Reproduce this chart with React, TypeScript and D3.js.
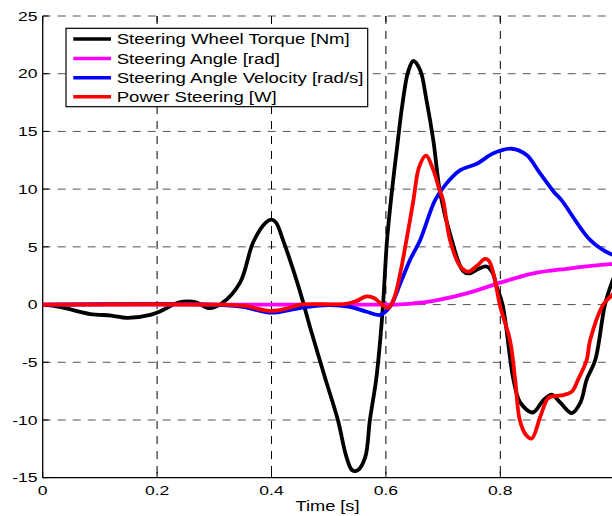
import React from "react";
import * as d3 from "d3";

const xTicks = [0, 0.2, 0.4, 0.6, 0.8];
const xTickLabels = ["0", "0.2", "0.4", "0.6", "0.8"];
const yTicks = [-15, -10, -5, 0, 5, 10, 15, 20, 25];
const yTickLabels = ["-15", "-10", "-5", "0", "5", "10", "15", "20", "25"];

const seriesNames = [
  "Steering Wheel Torque [Nm]",
  "Steering Angle [rad]",
  "Steering Angle Velocity [rad/s]",
  "Power Steering [W]",
];
const seriesColors = ["#000000", "#ff00ff", "#0000ff", "#ff0000"];

const torqueT = [0, 0.03, 0.083, 0.12, 0.147, 0.188, 0.215, 0.228, 0.245, 0.268, 0.29, 0.313, 0.345, 0.368, 0.39, 0.4, 0.408, 0.42, 0.438, 0.453, 0.467, 0.494, 0.516, 0.531, 0.541, 0.551, 0.564, 0.572, 0.583, 0.59, 0.595, 0.602, 0.61, 0.619, 0.629, 0.639, 0.648, 0.66, 0.671, 0.683, 0.695, 0.715, 0.735, 0.746, 0.762, 0.776, 0.786, 0.794, 0.804, 0.823, 0.835, 0.857, 0.875, 0.89, 0.905, 0.925, 0.94, 0.951, 0.966, 0.983, 0.995, 1.0];
const torqueV = [0, -0.2, -0.82, -0.95, -1.15, -0.9, -0.35, 0, 0.25, 0.2, -0.3, 0.1, 1.9, 5.4, 7.1, 7.35, 7.1, 5.6, 3.0, 0.6, -1.9, -6.4, -10, -13.2, -14.35, -14.35, -13.2, -10, -6.5, -3.1, 0, 5.6, 9.6, 13.4, 17.4, 20.2, 21.1, 20.3, 17.7, 14.2, 9.6, 5.6, 2.9, 2.7, 3.1, 3.3, 2.8, 1.5, 0, -6.5, -8.5, -9.35, -8.3, -7.8, -8.5, -9.4, -8.5, -6.5, -4.8, 0, 1.9, 2.5];

const angleT = [0, 0.6, 0.625, 0.683, 0.741, 0.8, 0.858, 0.916, 0.992, 1.0];
const angleV = [0, 0, 0.02, 0.33, 0.97, 1.9, 2.7, 3.1, 3.5, 3.52];

const velocityT = [0, 0.3, 0.35, 0.4, 0.45, 0.5, 0.537, 0.565, 0.59, 0.607, 0.625, 0.642, 0.66, 0.686, 0.706, 0.73, 0.759, 0.788, 0.82, 0.846, 0.869, 0.893, 0.907, 0.957, 0.992, 1.0];
const velocityV = [0, 0, -0.2, -0.7, -0.3, -0.05, -0.2, -0.6, -0.9, -0.2, 1.8, 3.85, 5.6, 9.05, 10.5, 11.65, 12.2, 13.1, 13.5, 12.95, 11.4, 9.8, 9.05, 5.6, 4.4, 4.3];

const powerT = [0, 0.3, 0.35, 0.4, 0.43, 0.45, 0.53, 0.548, 0.566, 0.58, 0.593, 0.604, 0.614, 0.625, 0.636, 0.648, 0.658, 0.67, 0.683, 0.692, 0.7, 0.712, 0.73, 0.744, 0.76, 0.773, 0.78, 0.788, 0.8, 0.817, 0.826, 0.834, 0.845, 0.855, 0.87, 0.884, 0.9, 0.91, 0.925, 0.936, 0.951, 0.957, 0.98, 0.995, 1.0];
const powerV = [0, 0, -0.1, -0.55, -0.3, 0, 0.05, 0.3, 0.7, 0.55, 0, -0.3, 0.5, 2.7, 5.6, 9.0, 11.9, 12.9, 11.65, 10.2, 9.05, 5.6, 3.3, 2.85, 3.4, 3.95, 3.8, 2.7, -0.2, -3.1, -6.5, -10, -11.3, -11.6, -9.7, -8.1, -7.9, -7.85, -7.55, -6.5, -4.8, -3.1, 0, 0.8, 1.1];

const seriesT = [torqueT, angleT, velocityT, powerT];
const seriesV = [torqueV, angleV, velocityV, powerV];

const FONT = "'Liberation Sans', Arial, Helvetica, sans-serif";

export default function App() {
  const W = 612;
  const H = 516;
  const left = 42.7;
  const right = 614.7;
  const top = 16;
  const bottom = 477.7;

  const x = d3.scaleLinear().domain([0, 1]).range([left, right]);
  const y = d3.scaleLinear().domain([-15, 25]).range([bottom, top]);

  const line = d3
    .line<[number, number]>()
    .x((d) => x(d[0]))
    .y((d) => y(d[1]))
    .curve(d3.curveCatmullRom.alpha(0.5));

  const legendX = 66;
  const legendY = 28.3;
  const legendW = 301.7;
  const legendH = 78.4;
  const legendRows = [39, 58.5, 77.7, 96.7];

  return (
    <svg
      width={W}
      height={H}
      style={{ position: "absolute", left: 0, top: 0, background: "#fff" }}
      fontFamily={FONT}
    >
      <rect x={0} y={0} width={W} height={H} fill="#fff" />
      <defs>
        <clipPath id="plotclip">
          <rect x={left} y={top - 2} width={right - left} height={bottom - top + 4} />
        </clipPath>
      </defs>
      {yTicks.map((t) =>
        t === -15 ? null : (
          <line
            key={"hg" + t}
            x1={left}
            x2={right}
            y1={y(t)}
            y2={y(t)}
            stroke="#555"
            strokeWidth={1}
            strokeDasharray="8,7"
          />
        )
      )}
      {xTicks.map((t) =>
        t === 0 ? null : (
          <line
            key={"vg" + t}
            x1={x(t)}
            x2={x(t)}
            y1={top}
            y2={bottom}
            stroke="#000"
            strokeWidth={1}
            strokeDasharray="8,7"
          />
        )
      )}
      <line x1={left} x2={left} y1={top} y2={bottom} stroke="#000" strokeWidth={1.3} />
      <line x1={left} x2={right} y1={bottom} y2={bottom} stroke="#000" strokeWidth={1.3} />
      {yTicks.map((t) => (
        <line key={"yt" + t} x1={left} x2={left + 6} y1={y(t)} y2={y(t)} stroke="#000" strokeWidth={1} />
      ))}
      {xTicks.map((t) => (
        <g key={"xt" + t}>
          <line x1={x(t)} x2={x(t)} y1={bottom} y2={bottom - 6} stroke="#000" strokeWidth={1} />
          <line x1={x(t)} x2={x(t)} y1={top} y2={top + 6} stroke="#000" strokeWidth={1} />
        </g>
      ))}
      {yTicks.map((t, i) => (
        <text
          key={"yl" + t}
          transform={`translate(37.5,${y(t) + 4.7}) scale(1.3,1)`}
          textAnchor="end"
          fontSize={13.5}
          fill="#000"
        >
          {yTickLabels[i]}
        </text>
      ))}
      {xTicks.map((t, i) => (
        <text
          key={"xl" + t}
          transform={`translate(${x(t)},494.5) scale(1.3,1)`}
          textAnchor="middle"
          fontSize={13.5}
          fill="#000"
        >
          {xTickLabels[i]}
        </text>
      ))}
      <text transform={`translate(327.5,510.5) scale(1.3,1)`} textAnchor="middle" fontSize={14} fill="#000">
        Time [s]
      </text>
      <g clipPath="url(#plotclip)">
        {seriesT.map((ts, si) => {
          const pts: [number, number][] = ts.map((t, j) => [t, seriesV[si][j]]);
          return (
            <path
              key={"s" + si}
              d={line(pts) || ""}
              fill="none"
              stroke={seriesColors[si]}
              strokeWidth={3.8}
              strokeLinejoin="round"
              strokeLinecap="round"
            />
          );
        })}
      </g>
      <rect x={legendX} y={legendY} width={legendW} height={legendH} fill="#fff" stroke="#000" strokeWidth={1.2} />
      {seriesNames.map((name, i) => (
        <g key={"lg" + i}>
          <line x1={73.3} x2={111} y1={legendRows[i]} y2={legendRows[i]} stroke={seriesColors[i]} strokeWidth={3.6} />
          <text
            transform={`translate(116.7,${legendRows[i] + 5.4}) scale(1.24,1)`}
            fontSize={15}
            fill="#000"
          >
            {name}
          </text>
        </g>
      ))}
    </svg>
  );
}
